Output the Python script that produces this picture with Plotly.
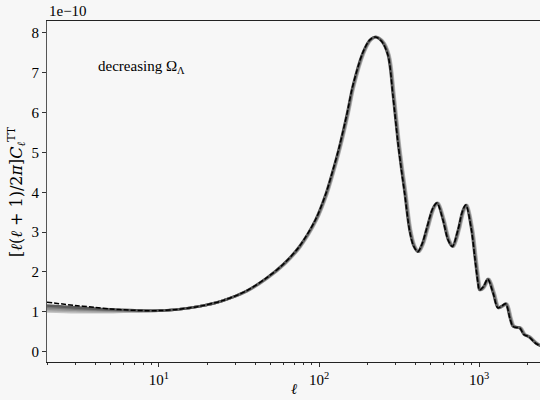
import plotly.graph_objects as go

# Multipoles and the reference TT spectrum (units of 1e-10)
ell = [2, 3, 4, 5, 6, 8, 10, 13, 18, 25, 35, 47, 60, 75, 95, 110, 121, 134, 150,
       162, 187, 207, 224, 245, 269, 290, 310, 326, 342, 367, 389, 414, 440, 468, 514,
       545, 594, 639, 680, 738, 786, 825, 895, 938, 984, 1004, 1060, 1132, 1222,
       1309, 1390, 1466, 1556, 1630, 1795, 1902, 2042, 2270, 2500]
cl_ref = [1.24, 1.16, 1.11, 1.07, 1.05, 1.03, 1.03, 1.06, 1.14, 1.28, 1.52, 1.85,
          2.20, 2.63, 3.31, 3.95, 4.50, 5.15, 6.00, 6.65, 7.49, 7.82, 7.90, 7.80,
          7.45, 6.40, 5.30, 4.60, 4.00, 3.06, 2.66, 2.51, 2.70, 3.06, 3.60, 3.73, 3.31,
          2.81, 2.64, 3.06, 3.52, 3.68, 3.06, 2.39, 1.72, 1.55, 1.62, 1.82, 1.47,
          1.10, 1.15, 1.20, 0.84, 0.63, 0.59, 0.43, 0.37, 0.20, 0.12]

# Low-multipole (ISW) values for the models with decreasing Omega_Lambda
low_ell_models = [
    [1.16, 1.11, 1.08, 1.06, 1.05, 1.03],
    [1.12, 1.08, 1.06, 1.05, 1.04, 1.03],
    [1.08, 1.05, 1.04, 1.03, 1.03, 1.02],
    [1.04, 1.02, 1.01, 1.01, 1.01, 1.02],
    [1.01, 0.99, 0.99, 0.99, 1.00, 1.01],
]
# Acoustic peak position ratio of each model relative to the reference
peak_shift = [1.0, 1.006, 1.012, 1.018, 1.024]
model_colors = ["#5c5c5c", "#787878", "#939393", "#acacac", "#c4c4c4"]

n_low = len(low_ell_models[0])
FONT = "Liberation Serif"

fig = go.Figure()

for low, s, c in reversed(list(zip(low_ell_models, peak_shift, model_colors))):
    x = [l * s if l >= 30 else l for l in ell]
    y = low + cl_ref[n_low:]
    fig.add_trace(go.Scatter(x=x, y=y, mode="lines",
                             line=dict(color=c, width=2.6, shape="spline", smoothing=0.9),
                             showlegend=False, hoverinfo="skip"))

fig.add_trace(go.Scatter(x=ell, y=cl_ref, mode="lines",
                         line=dict(color="black", width=1.5, dash="5px,2px",
                                   shape="spline", smoothing=0.9),
                         showlegend=False, hoverinfo="skip"))

minor_x = [v * d for d in (1, 10, 100) for v in range(2, 10)] + [2000]

fig.update_layout(
    width=540, height=400,
    margin=dict(l=47, r=0, t=21, b=38),
    paper_bgcolor="#f7f7f7", plot_bgcolor="#f7f7f7",
    font=dict(family=FONT, size=15, color="black"),
    xaxis=dict(type="log", range=[0.30103, 3.38],
               tickmode="array", tickvals=[10, 100, 1000],
               ticktext=["10<sup>1</sup>", "10<sup>2</sup>", "10<sup>3</sup>"],
               ticks="outside", ticklen=4, tickwidth=1, tickcolor="#333",
               minor=dict(tickmode="array", tickvals=minor_x, ticks="outside",
                          ticklen=2, tickwidth=0.8, tickcolor="#333"),
               showline=True, linecolor="#222", linewidth=1.2, mirror=True,
               showgrid=False, zeroline=False),
    yaxis=dict(range=[-0.26, 8.30], tickmode="linear", tick0=0, dtick=1,
               ticks="outside", ticklen=4, tickwidth=1, tickcolor="#333",
               showline=True, linecolor="#555", linewidth=1.2,
               showgrid=False, zeroline=False),
    annotations=[
        dict(text="1e\u221210", xref="paper", yref="paper", x=0, y=1,
             xanchor="left", yanchor="bottom", showarrow=False,
             font=dict(family=FONT, size=15)),
        dict(text="decreasing \u03a9<sub>\u039b</sub>", xref="paper", yref="paper",
             x=0.099, y=0.865, xanchor="left", yanchor="middle", showarrow=False,
             font=dict(family=FONT, size=15)),
        dict(text="[<i>\u2113</i>(<i>\u2113</i> + 1)/2<i>\u03c0</i>]<i>C</i><sub><i>\u2113</i></sub><sup>TT</sup>",
             xref="paper", yref="paper", x=-0.062, y=0.5, textangle=-90,
             xanchor="center", yanchor="middle", showarrow=False,
             font=dict(family="DejaVu Serif", size=16)),
        dict(text="<i>\u2113</i>", xref="paper", yref="paper", x=0.5, y=-0.078,
             xanchor="center", yanchor="middle", showarrow=False,
             font=dict(family="DejaVu Serif", size=15)),
    ],
)

fig.write_html("out.html")
